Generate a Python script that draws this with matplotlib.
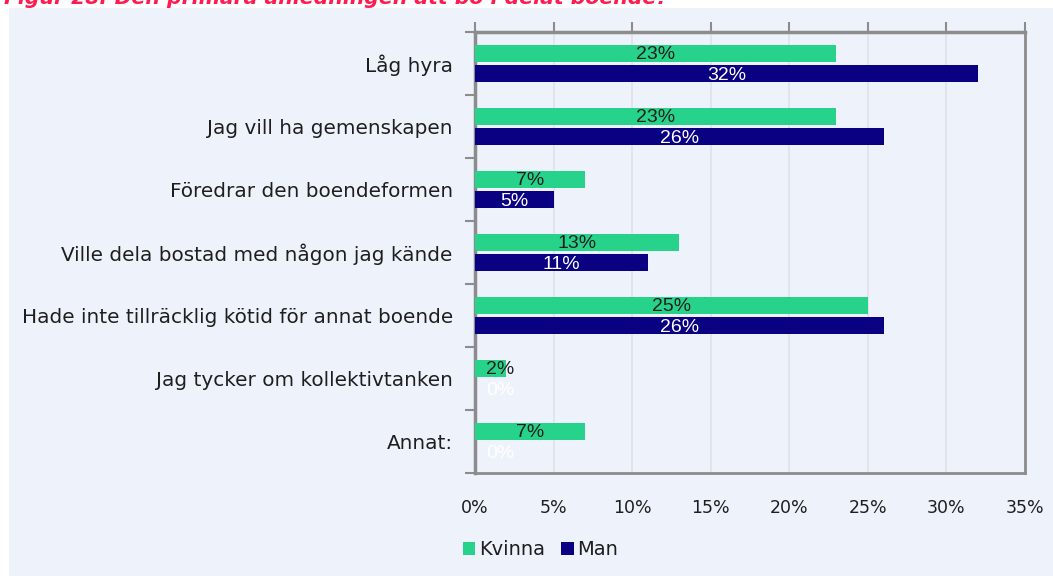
import numpy as np
import matplotlib.pyplot as plt
from matplotlib.patches import Rectangle

categories = [
    "Låg hyra",
    "Jag vill ha gemenskapen",
    "Föredrar den boendeformen",
    "Ville dela bostad med någon jag kände",
    "Hade inte tillräcklig kötid för annat boende",
    "Jag tycker om kollektivtanken",
    "Annat:",
]
kvinna = [23, 23, 7, 13, 25, 2, 7]
man = [32, 26, 5, 11, 26, 0, 0]
series_names = ["Kvinna", "Man"]
xticks = [0, 5, 10, 15, 20, 25, 30, 35]

GREEN = "#27d38a"
NAVY = "#0a0082"
BG = "#eef3fb"
SPINE = "#8c8c8c"
TEXT = "#1e1e1e"

plt.rcParams["font.family"] = ["DejaVu Sans"]

fig = plt.figure(figsize=(10.53, 5.76), dpi=100)
fig.patch.set_facecolor("white")
fig.patches.append(Rectangle((9 / 1053, 0), 1, 1 - 8 / 576,
                             transform=fig.transFigure, facecolor=BG,
                             edgecolor="none", zorder=-5))

# title, only the bottom half is visible in the original crop
fig.text(0.004, 1.0 + 2 / 576, "Figur 28: Den primära anledningen att bo i delat boende?",
         color="#ff1a4f", fontsize=14.7, fontweight="bold", fontstyle="italic",
         ha="left", va="center")

ax = fig.add_axes([475 / 1053, 1 - 473 / 576, 550 / 1053, 441 / 576])
ax.set_zorder(2)
ax.set_facecolor(BG)

y = np.arange(len(categories))
h = 0.27
off = 0.163
ax.barh(y - off, kvinna, height=h, color=GREEN, label=series_names[0], zorder=3)
ax.barh(y + off, man, height=h, color=NAVY, label=series_names[1], zorder=3)

label_font = ["Liberation Sans Narrow", "Liberation Sans", "DejaVu Sans"]
for i in range(len(categories)):
    xk = max(kvinna[i] / 2, 1.6)
    ax.text(xk, y[i] - off + 0.02, f"{kvinna[i]}%", ha="center", va="center",
            fontsize=14, color=TEXT, family=label_font, zorder=4)
    xm = max(man[i] / 2, 1.6)
    ax.text(xm, y[i] + off + 0.02, f"{man[i]}%", ha="center", va="center",
            fontsize=14, color="white", family=label_font, zorder=4)

ax.set_xlim(0, 35)
ax.set_ylim(len(categories) - 0.5, -0.5)
ax.set_xticks(xticks)
ax.set_xticklabels([f"{t}%" for t in xticks])
ax.xaxis.set_ticks_position("top")
ax.tick_params(axis="x", which="both", top=True, bottom=False, labeltop=False,
               labelbottom=True, direction="out", length=7, width=1.5,
               color=SPINE, pad=12, labelsize=12.5, labelcolor=TEXT)
ax.grid(axis="x", color="#dfe3e8", linewidth=1.2, zorder=0)

ax.set_yticks(y)
ax.set_yticklabels(categories)
ax.set_yticks(np.arange(len(categories) + 1) - 0.5, minor=True)
ax.tick_params(axis="y", which="major", length=0, pad=16, labelsize=14.4,
               labelcolor=TEXT)
ax.tick_params(axis="y", which="minor", length=7, width=1.5, color=SPINE,
               direction="out")

for s in ["top", "left", "bottom", "right"]:
    ax.spines[s].set_color(SPINE)
ax.spines["top"].set_linewidth(2.5)
ax.spines["left"].set_linewidth(2.5)
ax.spines["bottom"].set_linewidth(2)
ax.spines["right"].set_linewidth(2)

leg = fig.legend(loc="lower left", bbox_to_anchor=(455 / 1053, 9 / 576), ncol=2,
                 frameon=False, fontsize=14, handlelength=0.65, handleheight=0.65,
                 handletextpad=0.2, columnspacing=0.8, borderaxespad=0)
for t in leg.get_texts():
    t.set_color(TEXT)

fig.savefig("out.png", dpi=100, facecolor=fig.get_facecolor())
